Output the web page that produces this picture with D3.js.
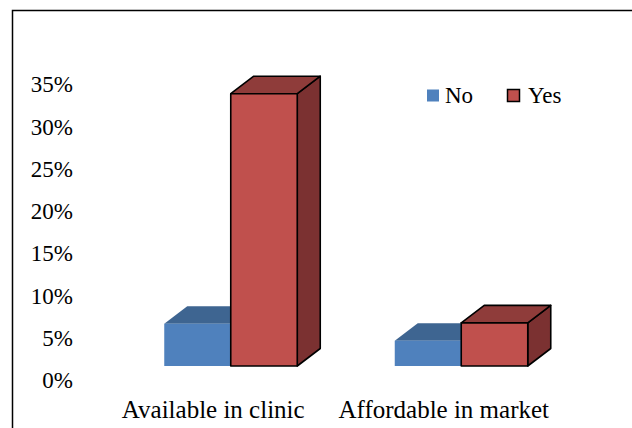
<!DOCTYPE html>
<html>
<head>
<meta charset="utf-8">
<script src="https://cdn.jsdelivr.net/npm/d3@7"></script>
<style>
  html, body { margin: 0; padding: 0; background: #fff; }
  svg { display: block; }
</style>
</head>
<body>
<svg id="chart" width="632" height="428"></svg>
<script>
// Share of respondents per availability question
const categories = ["Available in clinic", "Affordable in market"];
const seriesNames = ["No", "Yes"];
const noValues = [0.05, 0.03];
const yesValues = [0.322, 0.051];
const yTicks = [0, 0.05, 0.10, 0.15, 0.20, 0.25, 0.30, 0.35];

const FONT = '"Liberation Serif", "Times New Roman", Times, serif';

const palette = {
  No:  { front: "#4F81BD", top: "#3E6591", side: "#2F4F74", stroke: "none" },
  Yes: { front: "#C0504D", top: "#8F3C3A", side: "#7B3131", stroke: "#000" }
};

const svg = d3.select("#chart").attr("font-family", FONT);
const W = 632, H = 428;

// outer frame (runs off the right and bottom edges)
svg.append("rect")
  .attr("x", 12.5).attr("y", 10.5)
  .attr("width", W + 20).attr("height", H + 20)
  .attr("fill", "#fff").attr("stroke", "#000").attr("stroke-width", 1.5);

const y = d3.scaleLinear().domain([0, 0.35]).range([380, 84]);
const x = d3.scaleBand().domain(categories).range([98, 559]);
const xs = d3.scaleBand().domain(seriesNames).range([-66.5, 66.5]);

// oblique depth of each column, and where columns sit relative to the floor front
const depth = { dx: 23, dy: -17.5 };
const inset = { dx: 17.5, dy: -14 };

// value axis
const yAxis = d3.axisLeft(y)
  .tickValues(yTicks)
  .tickFormat(d3.format(".0%"))
  .tickSize(0)
  .tickPadding(3);

const gy = svg.append("g").attr("transform", "translate(76,0)").call(yAxis);
gy.attr("font-family", FONT).attr("font-size", 23);
gy.select(".domain").remove();
gy.selectAll("text").attr("fill", "#000").attr("dy", "0.34em");

// category labels
svg.append("g")
  .attr("font-size", 25)
  .selectAll("text")
  .data(categories)
  .join("text")
  .attr("x", d => x(d) + x.bandwidth() / 2)
  .attr("y", 418)
  .attr("text-anchor", "middle")
  .attr("fill", "#000")
  .text(d => d);

// 3-D columns
const rows = categories.map((c, i) => ({
  cat: c,
  bars: [
    { series: "No", value: noValues[i] },
    { series: "Yes", value: yesValues[i] }
  ]
}));

const base = y(0) + inset.dy;

rows.forEach(row => {
  const cx = x(row.cat) + x.bandwidth() / 2 + inset.dx;
  row.bars.forEach(b => {
    const col = palette[b.series];
    const x0 = cx + xs(b.series);
    const x1 = x0 + xs.bandwidth();
    const yt = y(b.value) + inset.dy;
    const g = svg.append("g")
      .attr("stroke", col.stroke)
      .attr("stroke-width", col.stroke === "none" ? 0 : 1.6)
      .attr("stroke-linejoin", "round");
    // side face
    g.append("path")
      .attr("fill", col.side)
      .attr("d", `M${x1},${yt}L${x1 + depth.dx},${yt + depth.dy}L${x1 + depth.dx},${base + depth.dy}L${x1},${base}Z`);
    // top face
    g.append("path")
      .attr("fill", col.top)
      .attr("d", `M${x0},${yt}L${x0 + depth.dx},${yt + depth.dy}L${x1 + depth.dx},${yt + depth.dy}L${x1},${yt}Z`);
    // front face
    g.append("rect")
      .attr("fill", col.front)
      .attr("x", x0).attr("y", yt)
      .attr("width", x1 - x0).attr("height", base - yt);
  });
});

// legend
const legend = svg.append("g").attr("font-size", 23);
const legendItems = [
  { name: "No", x: 427, gap: 18 },
  { name: "Yes", x: 507.5, gap: 20.5 }
];
legendItems.forEach(it => {
  const col = palette[it.name];
  legend.append("rect")
    .attr("x", it.x).attr("y", 89.5)
    .attr("width", 12).attr("height", 12)
    .attr("fill", col.front)
    .attr("stroke", col.stroke)
    .attr("stroke-width", col.stroke === "none" ? 0 : 1.5);
  legend.append("text")
    .attr("x", it.x + it.gap).attr("y", 103)
    .attr("fill", "#000")
    .text(it.name);
});
</script>
</body>
</html>
